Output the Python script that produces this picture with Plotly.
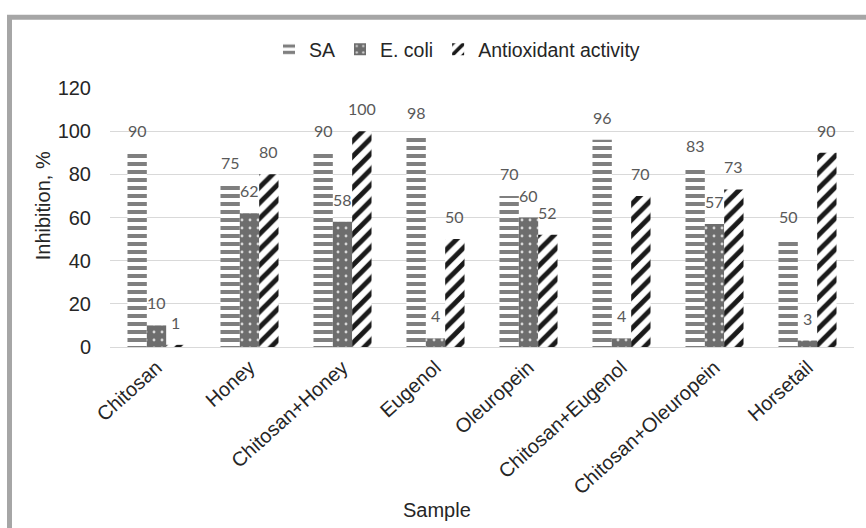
import plotly.graph_objects as go

categories = ["Chitosan", "Honey", "Chitosan+Honey", "Eugenol", "Oleuropein",
              "Chitosan+Eugenol", "Chitosan+Oleuropein", "Horsetail"]
sa = [90, 75, 90, 98, 70, 96, 83, 50]
ecoli = [10, 62, 58, 4, 60, 4, 57, 3]
antiox = [1, 80, 100, 50, 52, 70, 73, 90]
series_names = ["SA", "E. coli", "Antioxidant activity"]
y_ticks = [0, 20, 40, 60, 80, 100, 120]
x_title = "Sample"
y_title = "Inhibition, %"

ARIAL = "Liberation Sans, Arial, sans-serif"
LABEL_FONT = dict(family="Lato, Open Sans, sans-serif", size=16, color="#595959")
TEXT_COLOR = "#262626"

patterns = [
    dict(color="white", pattern=dict(shape="-", fgcolor="#7f7f7f", bgcolor="white",
                                     size=8, solidity=0.5, fillmode="replace")),
    dict(color="#6d6d6d", pattern=dict(shape=".", fgcolor="#d8d8d8", bgcolor="#6d6d6d",
                                       size=8, solidity=0.1, fillmode="replace")),
    dict(color="white", pattern=dict(shape="/", fgcolor="#1a1a1a", bgcolor="white",
                                     size=11, solidity=0.45, fillmode="replace")),
]

fig = go.Figure()
series = [sa, ecoli, antiox]
for name, vals, mk in zip(series_names, series, patterns):
    fig.add_trace(go.Bar(name=name, x=categories, y=vals,
                         marker=dict(line=dict(width=0), **mk)))

L, R, T, B = 110, 12, 87.5, 181
W, H = 866, 528
pw, ph = W - L - R, H - T - B
BARGAP = 0.376
bar_w = pw / len(categories) * (1 - BARGAP) / 3

def px_x(x):
    return (x - L) / pw

def px_y(y):
    return (H - B - y) / ph

annotations = []
for i, vals in enumerate(series):
    for cat, v in zip(categories, vals):
        annotations.append(dict(
            x=cat, y=v, xref="x", yref="y", text=str(v), showarrow=False,
            xshift=(i - 1) * bar_w, yshift=11, yanchor="bottom",
            font=LABEL_FONT))

annotations.append(dict(text=x_title, xref="paper", yref="paper",
                        x=px_x(437), y=px_y(510), xanchor="center", yanchor="middle",
                        showarrow=False, font=dict(family=ARIAL, size=20, color=TEXT_COLOR)))
annotations.append(dict(text=y_title, xref="paper", yref="paper", textangle=-90,
                        x=px_x(43), y=px_y(206), xanchor="center", yanchor="middle",
                        showarrow=False, font=dict(family=ARIAL, size=20, color=TEXT_COLOR)))

fig.update_layout(
    width=W, height=H,
    margin=dict(l=L, r=R, t=T, b=B, autoexpand=False),
    paper_bgcolor="white", plot_bgcolor="white",
    font=dict(family=ARIAL, size=20, color=TEXT_COLOR),
    barmode="group", bargap=BARGAP, bargroupgap=0,
    showlegend=True,
    legend=dict(orientation="h", x=px_x(457), xanchor="center",
                y=px_y(49), yanchor="middle",
                font=dict(family=ARIAL, size=19.5, color=TEXT_COLOR),
                itemwidth=30, traceorder="normal"),
    xaxis=dict(tickangle=-42, showgrid=False, showline=True,
               linecolor="#d9d9d9", linewidth=1, ticks="",
               tickfont=dict(family=ARIAL, size=20, color=TEXT_COLOR)),
    yaxis=dict(range=[0, 120], tickvals=y_ticks, showgrid=True,
               gridcolor="#d9d9d9", gridwidth=1, zeroline=False,
               showline=False, ticks="", ticklabelstandoff=18,
               tickfont=dict(family=ARIAL, size=20, color=TEXT_COLOR)),
    annotations=annotations,
    shapes=[dict(type="rect", xref="paper", yref="paper",
                 x0=px_x(9.5), x1=px_x(900), y0=px_y(560), y1=px_y(16.5),
                 line=dict(color="#a6a6a6", width=5), fillcolor="rgba(0,0,0,0)",
                 layer="above")],
)

fig.write_html("out.html")
